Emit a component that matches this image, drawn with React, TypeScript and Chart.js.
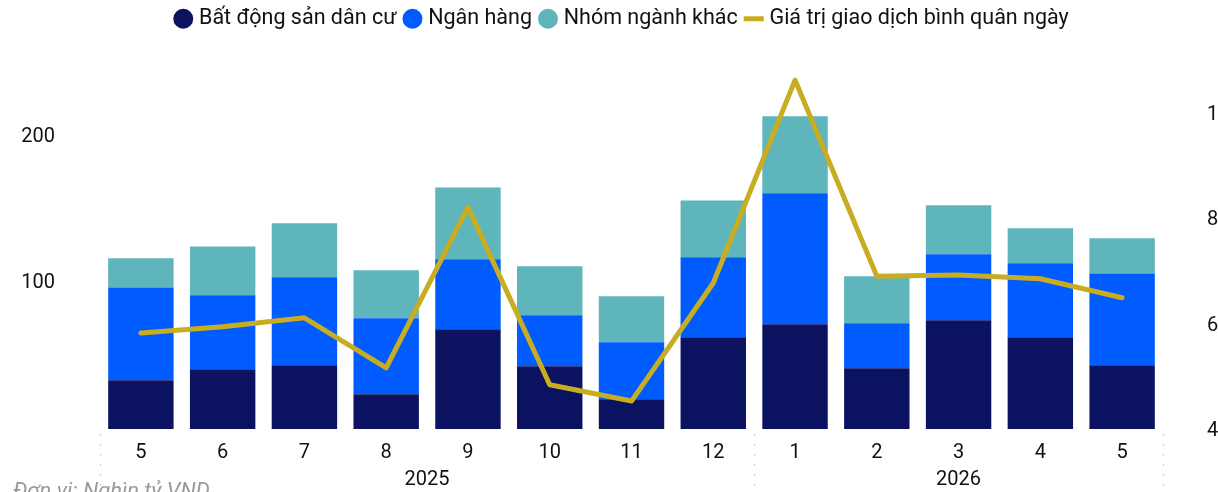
import React, { useEffect, useRef } from "react";
import { Chart, registerables } from "chart.js";

Chart.register(...registerables);

const months = ["5", "6", "7", "8", "9", "10", "11", "12", "1", "2", "3", "4", "5"];
const years = ["2025", "2025", "2025", "2025", "2025", "2025", "2025", "2025", "2026", "2026", "2026", "2026", "2026"];

const residential = [33.4, 40.9, 43.6, 23.8, 68.3, 42.9, 20.3, 62.8, 71.7, 41.6, 74.5, 62.8, 43.6];
const banking = [63.6, 50.7, 60.3, 52.0, 47.9, 35.0, 39.1, 54.8, 89.7, 30.8, 45.2, 50.7, 63.0];
const others = [19.9, 33.4, 37.0, 32.9, 49.3, 33.5, 31.5, 39.0, 52.8, 32.2, 33.5, 24.0, 24.0];
const dailyValue = [5.86, 5.98, 6.15, 5.2, 8.25, 4.88, 4.57, 6.81, 10.66, 6.94, 6.96, 6.89, 6.53];

const rightTicks = [4, 6, 8, 10];
const leftTicks = [100, 200];

const NAVY = "#0B1361";
const BLUE = "#005CFF";
const TEAL = "#5FB5BC";
const GOLD = "#C8AC22";

const yearPlugin = {
  id: "yearGroups",
  afterDraw(chart: any) {
    const { ctx, chartArea } = chart;
    const x = chart.scales.x;
    const step = x.getPixelForValue(1) - x.getPixelForValue(0);
    const groups: { label: string; from: number; to: number }[] = [];
    years.forEach((y, i) => {
      const g = groups[groups.length - 1];
      if (g && g.label === y) g.to = i;
      else groups.push({ label: y, from: i, to: i });
    });
    ctx.save();
    ctx.strokeStyle = "#c4c4c4";
    ctx.lineWidth = 1.2;
    ctx.setLineDash([1.5, 8.5]);
    const bounds: number[] = [];
    groups.forEach((g, gi) => {
      const left = x.getPixelForValue(g.from) - step / 2;
      const right = x.getPixelForValue(g.to) + step / 2;
      if (gi === 0) bounds.push(left);
      bounds.push(right);
      ctx.fillStyle = "#111";
      ctx.font = "20px Roboto";
      ctx.textAlign = "center";
      ctx.textBaseline = "middle";
      ctx.fillText(g.label, (left + right) / 2, chartArea.bottom + 51);
    });
    bounds.forEach((bx) => {
      const px = Math.round(bx) + 0.5;
      ctx.beginPath();
      ctx.moveTo(px, chartArea.bottom + 5);
      ctx.lineTo(px, chartArea.bottom + 80);
      ctx.stroke();
    });
    ctx.restore();
  },
};

function zeroPad(scale: any) {
  scale.paddingTop = 0;
  scale.paddingBottom = 0;
}

export default function App() {
  const ref = useRef<HTMLCanvasElement>(null);
  useEffect(() => {
    if (!ref.current) return;
    Chart.defaults.font.family = "Roboto";
    Chart.defaults.color = "#111";
    const chart = new Chart(ref.current, {
      type: "bar",
      data: {
        labels: months,
        datasets: [
          { type: "bar", label: "Bất động sản dân cư", data: residential, backgroundColor: NAVY, stack: "s", yAxisID: "y", order: 2 },
          { type: "bar", label: "Ngân hàng", data: banking, backgroundColor: BLUE, stack: "s", yAxisID: "y", order: 2 },
          { type: "bar", label: "Nhóm ngành khác", data: others, backgroundColor: TEAL, stack: "s", yAxisID: "y", order: 2 },
          {
            type: "line",
            label: "Giá trị giao dịch bình quân ngày",
            data: dailyValue,
            borderColor: GOLD,
            backgroundColor: GOLD,
            borderWidth: 5,
            pointRadius: 0,
            pointStyle: "line",
            tension: 0,
            borderCapStyle: "round",
            borderJoinStyle: "round",
            yAxisID: "y1",
            order: 0,
          } as any,
        ],
      },
      options: {
        responsive: false,
        animation: false,
        devicePixelRatio: 1,
        layout: { padding: { left: 22, right: 0, top: -3, bottom: 0 } },
        datasets: { bar: { categoryPercentage: 0.8, barPercentage: 1 } },
        plugins: {
          legend: {
            position: "top",
            labels: {
              usePointStyle: true,
              boxHeight: 14.14,
              boxWidth: 10,
              padding: 11,
              font: { size: 21.5 },
              color: "#111",
              sort: (a: any, b: any) => a.datasetIndex - b.datasetIndex,
            },
          },
          tooltip: { enabled: false },
        },
        scales: {
          x: {
            stacked: true,
            grid: { display: false, drawTicks: false },
            border: { display: false },
            ticks: { padding: 12, font: { size: 20 }, color: "#111", maxRotation: 0 },
            afterFit(scale: any) {
              scale.height = 71;
            },
          },
          y: {
            stacked: true,
            position: "left",
            min: 0,
            max: 266.8,
            grid: { display: false, drawTicks: false },
            border: { display: false },
            afterBuildTicks(scale: any) {
              scale.ticks = leftTicks.map((v) => ({ value: v }));
            },
            ticks: { padding: 45, font: { size: 20 }, color: "#111" },
            afterFit(scale: any) {
              scale.width = 78;
              zeroPad(scale);
            },
          },
          y1: {
            position: "right",
            min: 4.04,
            max: 11.43,
            grid: { display: false, drawTicks: false },
            border: { display: false },
            afterBuildTicks(scale: any) {
              scale.ticks = rightTicks.map((v) => ({ value: v }));
            },
            ticks: { padding: 44, font: { size: 20 }, color: "#111" },
            afterFit(scale: any) {
              scale.width = 62;
              zeroPad(scale);
            },
          },
        },
      },
      plugins: [yearPlugin],
    } as any);
    return () => chart.destroy();
  }, []);

  return (
    <div style={{ position: "absolute", left: 0, top: 0, width: 1218, height: 492, overflow: "hidden", background: "#fff" }}>
      <canvas ref={ref} width={1225} height={500} style={{ position: "absolute", left: 0, top: 0, width: 1225, height: 500 }} />
      <div
        style={{
          position: "absolute",
          left: 13,
          top: 478,
          fontFamily: "Roboto",
          fontStyle: "italic",
          fontSize: 22,
          color: "#9a9a9a",
          whiteSpace: "nowrap",
        }}
      >
        Đơn vị: Nghìn tỷ VND
      </div>
    </div>
  );
}
